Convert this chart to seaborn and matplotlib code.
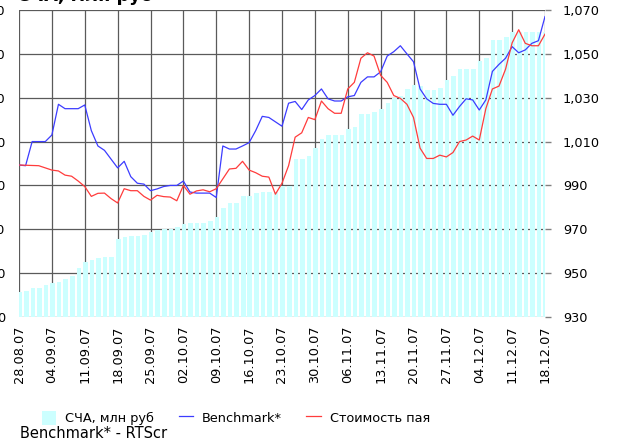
import matplotlib
matplotlib.use("Agg")
import matplotlib.pyplot as plt
import matplotlib.ticker as mticker
import numpy as np
import pandas as pd
import seaborn as sns


#chart data, one value per trading day from 28.08.07 to 18.12.07
#----------------------------------------------------------------
date_labels = ["28.08.07", "04.09.07", "11.09.07", "18.09.07", "25.09.07", "02.10.07",
               "09.10.07", "16.10.07", "23.10.07", "30.10.07", "06.11.07", "13.11.07",
               "20.11.07", "27.11.07", "04.12.07", "11.12.07", "18.12.07"]

#net assets, mln rub (left axis)
nav = [11.5, 12, 13, 13.3, 14.5, 15.5, 16, 17.3, 18.5, 22.5,
       25.3, 26, 27, 27.5, 27.5, 35.4, 36.3, 37, 37, 37.4,
       38.9, 39.7, 40, 40.3, 40.9, 42.4, 42.7, 43, 43, 44,
       45.7, 49.5, 51.8, 51.8, 55, 55.2, 56.7, 57.1, 57.1, 57.1,
       59.7, 59.7, 72, 72, 73.4, 77, 81, 83, 83, 83,
       85.7, 86.5, 92.6, 92.6, 93.6, 95, 97.5, 99.7, 101, 104,
       105.8, 105.3, 103.5, 103.5, 104.3, 108, 110, 113.1, 113.1, 113.1,
       116.7, 118, 126.3, 126.3, 127.5, 130, 130, 130, 130, 130,
       130]

#benchmark (RTScr), right axis
benchmark = [999.3, 999, 1010, 1010, 1010, 1013, 1027, 1025, 1025, 1025,
             1026.7, 1015, 1008, 1006, 1002, 998, 1001, 994, 991, 990.6,
             987.6, 988.4, 989.5, 990, 990, 992, 987, 986.5, 986.5, 986.5,
             984.5, 1008, 1006.6, 1006.6, 1008, 1009.5, 1015, 1021.5, 1021, 1019,
             1017, 1027.5, 1028.3, 1024.6, 1029, 1031, 1034, 1029.5, 1028.5, 1028.5,
             1030.4, 1031, 1037, 1039.5, 1039.5, 1041.8, 1049, 1051, 1053.7, 1050,
             1046.4, 1034, 1029.5, 1027.4, 1027, 1027, 1022, 1026, 1029.5, 1029,
             1024.4, 1029, 1042, 1045.2, 1048, 1053.3, 1050.5, 1051.8, 1054.8, 1056,
             1067]

#unit price, right axis
unit_price = [999.3, 999.2, 999.1, 999, 998, 997, 996.6, 994.7, 994.2, 992,
              989.5, 985, 986.4, 986.5, 984, 982, 988.5, 987.6, 987.6, 985,
              983.3, 985.5, 984.9, 984.7, 983, 990, 986, 987.5, 988, 987.1,
              988.5, 993, 997.5, 997.8, 1001, 997, 995.8, 994.2, 993.8, 986,
              991, 999, 1012, 1014, 1021, 1020, 1028.5, 1025, 1022.9, 1022.9,
              1034, 1037, 1048, 1050.5, 1049, 1040.2, 1037, 1031, 1029.7, 1027,
              1021, 1007, 1002.3, 1002.3, 1003.8, 1003, 1005, 1010, 1010.7, 1012.5,
              1010.7, 1025, 1034, 1035.3, 1043, 1055, 1061, 1054.8, 1053.7, 1053.7,
              1059]

right_ticks = [930, 950, 970, 990, 1010, 1030, 1050, 1070]
left_ticks = [0, 20, 40, 60, 80, 100, 120, 140]

n = len(nav)
days = np.arange(n)
df = pd.DataFrame({"day": days,
                   "bar_pos": days + 0.1,
                   "nav": nav,
                   "benchmark": benchmark,
                   "price": unit_price})

plt.rcParams["font.family"] = ["DejaVu Sans"]
fig = plt.figure(figsize=(6.24, 4.42), dpi=100)
ax = fig.add_axes([19 / 624, 1 - 317 / 442, (545 - 19) / 624, (317 - 10) / 442])

#bars of net assets on the left axis, drawn over the grid
sns.barplot(data=df, x="bar_pos", y="nav", native_scale=True, color="#ccffff",
            saturation=1, width=0.7, errorbar=None, ax=ax)
for p in ax.patches:
    p.set_zorder(3)
ax.set_xlim(0, n - 1)
ax.set_ylim(0, 140)
ax.set_yticks(left_ticks)
ax.set_xticks(np.arange(len(date_labels)) * 5)
ax.set_xticklabels(date_labels, rotation=90, fontsize=9.3)
ax.tick_params(axis="x", length=0, pad=6)
ax.tick_params(axis="y", length=0, pad=10, labelsize=9.3)
ax.set_xlabel("")
ax.set_ylabel("")
ax.set_axisbelow(True)
ax.grid(True, color="#5a5a5a", linewidth=0.9)
for s in ax.spines.values():
    s.set_visible(False)

#lines on the right axis
ax2 = ax.twinx()
sns.lineplot(data=df, x="day", y="benchmark", color="#3c3cff", linewidth=0.9, ax=ax2)
sns.lineplot(data=df, x="day", y="price", color="#ff3c3c", linewidth=0.9, ax=ax2)
ax2.set_ylim(930, 1070)
ax2.set_yticks(right_ticks)
ax2.yaxis.set_major_formatter(mticker.StrMethodFormatter("{x:,.0f}"))
ax2.tick_params(axis="y", length=4, width=1, color="#808080", pad=9, labelsize=9.3)
ax2.set_xlim(0, n - 1)
ax2.set_ylabel("")
ax2.grid(False)
for s in ax2.spines.values():
    s.set_visible(False)

handles = [ax.patches[0], ax2.lines[0], ax2.lines[1]]
fig.legend(handles, ["СЧА, млн руб", "Benchmark*", "Стоимость пая"],
           loc="center", bbox_to_anchor=(236 / 624, 1 - 418 / 442), ncol=3,
           frameon=False, fontsize=9.3, handlelength=1.1, handleheight=1.4,
           handletextpad=0.7, columnspacing=1.9)

#title text sits mostly above the picture, as in the cropped original
fig.text(17 / 624, 1 - 1 / 442, "СЧА, млн руб", fontsize=12.7, fontweight="bold",
         ha="left", va="baseline")
fig.text(20 / 624, 1 - 438 / 442, "Benchmark* - RTScr", fontsize=10.5,
         ha="left", va="baseline")

fig.savefig("out.png", dpi=100)
